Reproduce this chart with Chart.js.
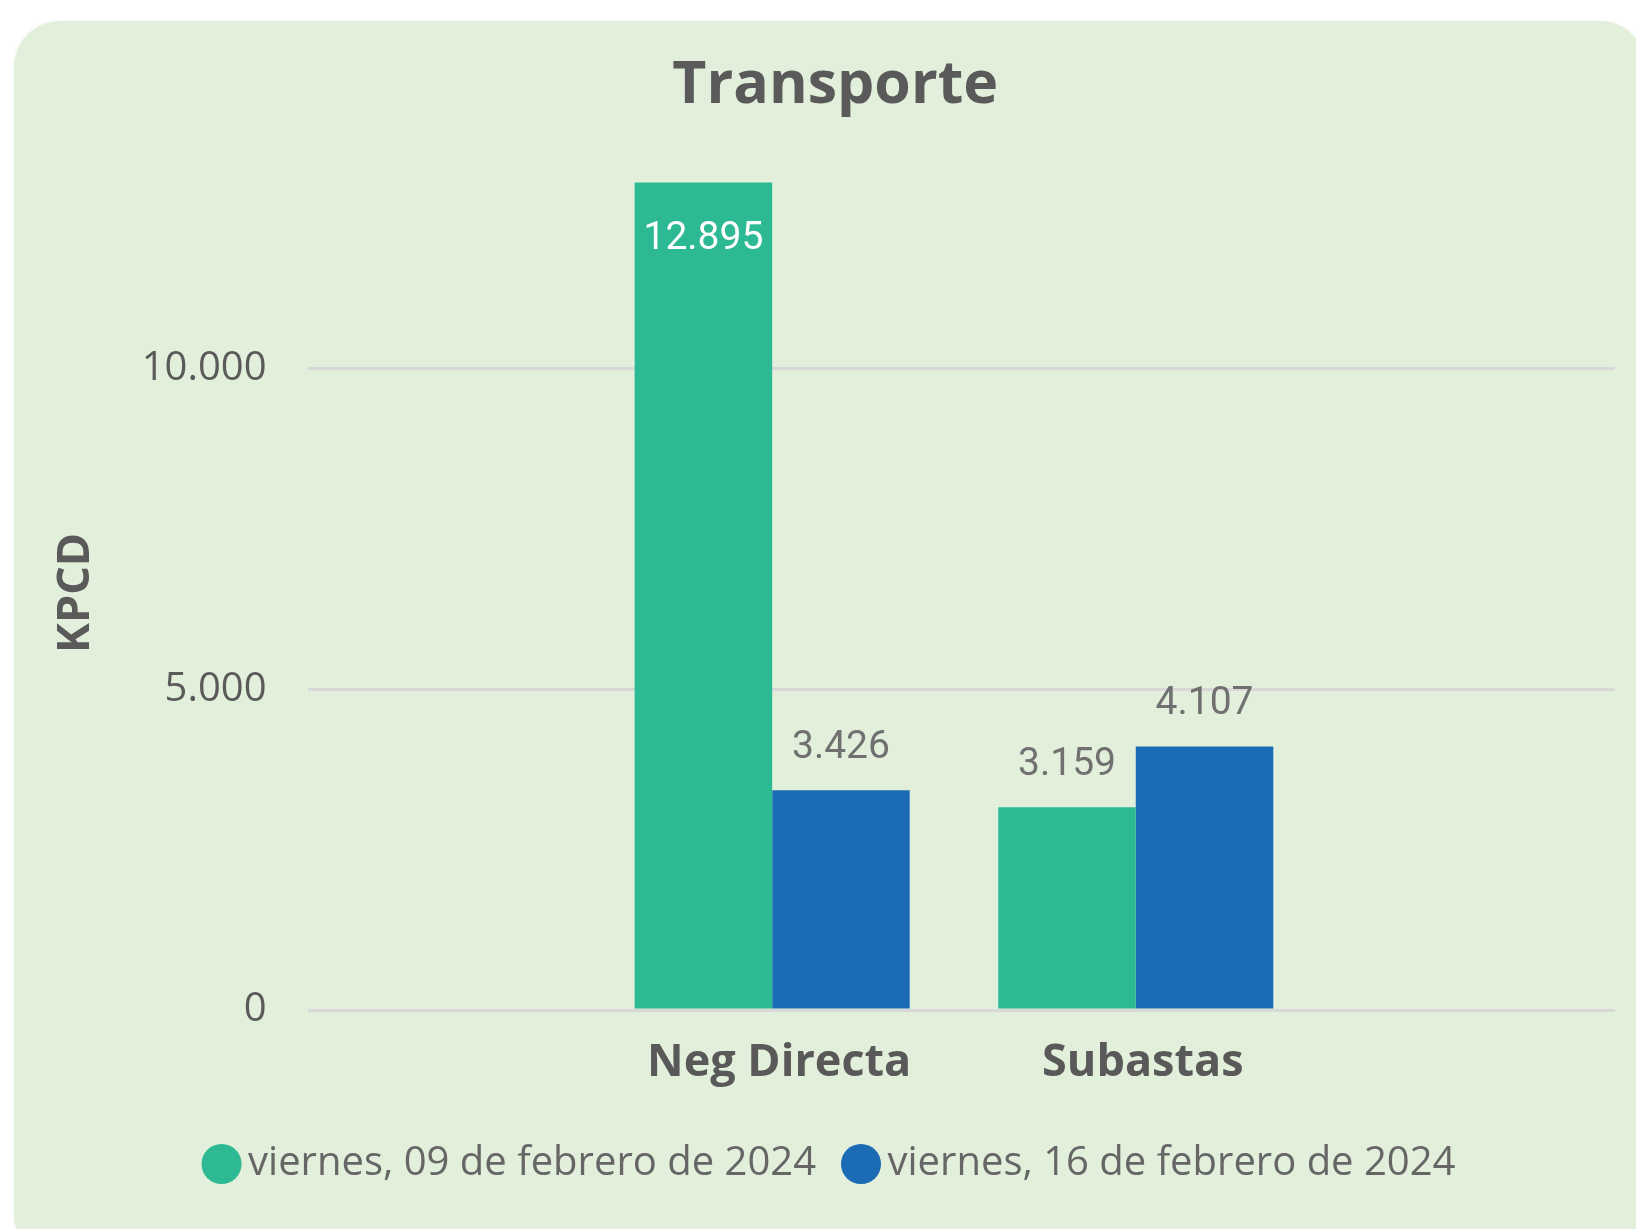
<!DOCTYPE html>
<html lang="es">
<head>
<meta charset="utf-8">
<title>Transporte</title>
<script src="https://cdn.jsdelivr.net/npm/chart.js@4.4.1/dist/chart.umd.min.js"></script>
<style>
  html, body { margin: 0; padding: 0; background: #ffffff; }
  body { width: 1636px; height: 1229px; position: relative; overflow: hidden; }
  .tarjeta {
    position: absolute; left: 14px; top: 21px;
    width: 1632px; height: 1240px;
    background: #e2efda; border-radius: 46px;
    box-shadow: 0 0 5px rgba(0, 0, 0, 0.04);
  }
  #transporteChart { position: absolute; left: 0; top: 0; }
</style>
</head>
<body>
<div class="tarjeta"></div>
<canvas id="transporteChart" width="1636" height="1229"></canvas>
<script>
const categorias = ["Neg Directa", "Subastas"];
const fechas = ["viernes, 09 de febrero de 2024", "viernes, 16 de febrero de 2024"];
const valores09Feb = [12895, 3159];
const valores16Feb = [3426, 4107];
const ticksY = [0, 5000, 10000];
const colores = ["#2cb994", "#1b6cb5"];

Chart.defaults.font.family = "'Open Sans', 'Noto Sans', sans-serif";

function formatoMiles(v) {
  return String(v).replace(/\B(?=(\d{3})+(?!\d))/g, ".");
}

// etiquetas de datos: encima de la barra, o dentro si no cabe
const etiquetasPlugin = {
  id: "etiquetas",
  afterDatasetsDraw(chart) {
    const ctx = chart.ctx;
    ctx.save();
    ctx.font = "39px Roboto";
    ctx.textAlign = "center";
    ctx.textBaseline = "alphabetic";
    chart.data.datasets.forEach((ds, i) => {
      chart.getDatasetMeta(i).data.forEach((bar, j) => {
        const texto = formatoMiles(ds.data[j].y);
        let y = bar.y - 32;
        if (y - 31 < chart.chartArea.top) {
          ctx.fillStyle = "#ffffff";
          y = bar.y + 66;
        } else {
          ctx.fillStyle = "#707070";
        }
        ctx.fillText(texto, bar.x, y);
      });
    });
    ctx.restore();
  },
};

const ctx = document.getElementById("transporteChart");

new Chart(ctx, {
  type: "bar",

  data: {
    datasets: [
      {
        label: fechas[0],
        data: valores09Feb.map((v, i) => ({ x: i, y: v })),
        backgroundColor: colores[0],
        borderColor: colores[0],
        borderWidth: 0,
      },
      {
        label: fechas[1],
        data: valores16Feb.map((v, i) => ({ x: i, y: v })),
        backgroundColor: colores[1],
        borderColor: colores[1],
        borderWidth: 0,
      },
    ],
  },

  options: {
    responsive: false,
    animation: false,
    categoryPercentage: 0.7565,
    barPercentage: 1,

    layout: {
      padding: { left: 55.5, right: 21, top: 0, bottom: 35 },
    },

    plugins: {
      title: {
        display: true,
        text: "Transporte",
        color: "#5a5a5a",
        font: { size: 59, weight: "bold" },
        padding: { top: 51, bottom: 54 },
      },

      legend: {
        position: "bottom",
        labels: {
          usePointStyle: true,
          pointStyle: "circle",
          boxWidth: 13,
          boxHeight: 28.3,
          padding: 38.5,
          color: "#666666",
          font: { size: 40 },
        },
      },

      tooltip: { enabled: false },
    },

    scales: {
      x: {
        type: "linear",
        min: -1.278,
        max: 2.318,
        offset: false,
        grid: { display: false },
        border: { display: false },
        afterBuildTicks: (scale) => {
          scale.ticks = categorias.map((c, i) => ({ value: i }));
        },
        afterFit: (scale) => {
          scale.height = 95.5;
        },
        ticks: {
          autoSkip: false,
          maxRotation: 0,
          padding: 18,
          labelOffset: 7,
          color: "#595959",
          font: { size: 45, weight: "bold" },
          callback: function (value) {
            return categorias[value] ?? "";
          },
        },
      },

      y: {
        min: 0,
        max: 13000,
        grid: { color: "#d8d8d8", lineWidth: 3, drawTicks: false },
        border: { display: false },
        afterBuildTicks: (scale) => {
          scale.ticks = ticksY.map((v) => ({ value: v }));
        },
        afterFit: (scale) => {
          scale.width = 252;
        },
        title: {
          display: true,
          text: "KPCD",
          color: "#5a5a5a",
          font: { size: 45, weight: "bold" },
          padding: { top: -6, bottom: 0 },
        },
        ticks: {
          padding: 41,
          color: "#5a5a5a",
          font: { size: 40 },
          callback: function (value) {
            return formatoMiles(value);
          },
        },
      },
    },
  },

  plugins: [etiquetasPlugin],
});
</script>
</body>
</html>
